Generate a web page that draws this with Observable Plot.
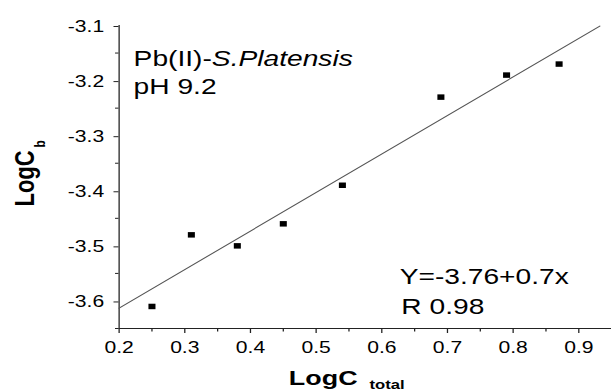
<!DOCTYPE html>
<html>
<head>
<meta charset="utf-8">
<script src="https://cdn.jsdelivr.net/npm/d3@7"></script>
<script src="https://cdn.jsdelivr.net/npm/@observablehq/plot@0.6"></script>
<style>
  html, body { margin: 0; padding: 0; background: white; overflow: hidden; }
  #chart { width: 611px; height: 391px; overflow: hidden; }
  #chart svg { display: block; }
</style>
</head>
<body>
<div id="chart"></div>
<script>
// ---- data ----
const logCtotal = [0.25, 0.31, 0.38, 0.45, 0.54, 0.69, 0.79, 0.87];
const logCb     = [-3.61, -3.48, -3.50, -3.46, -3.39, -3.23, -3.19, -3.17];

// linear fit Y = -3.76 + 0.7x, drawn over the span seen in the figure
const fitX = [0.2, 0.932];
const fitY = [-3.613, -3.101];

// ticks
const xTicks = [0.2, 0.3, 0.4, 0.5, 0.6, 0.7, 0.8, 0.9];
const xMinorTicks = [0.25, 0.35, 0.45, 0.55, 0.65, 0.75, 0.85];
const yTicks = [-3.6, -3.5, -3.4, -3.3, -3.2, -3.1];
const yMinorTicks = [-3.65, -3.55, -3.45, -3.35, -3.25, -3.15];

// texts
const annotationTitle = "Pb(II)-";
const annotationSpecies = "S.Platensis";
const annotationPH = "pH 9.2";
const equationText = "Y=-3.76+0.7x";
const rText = "R 0.98";
const xTitle = "LogC";
const xTitleSub = "total";
const yTitle = "LogC";
const yTitleSub = "b";

// ---- build ----
const points = logCtotal.map((x, i) => ({x, y: logCb[i]}));
const fit = fitX.map((x, i) => ({x, y: fitY[i]}));

const W = 477;          // drawn width, then stretched horizontally to 611 like the reference
const STRETCH = 611 / W;
const font = "'Liberation Sans', Arial, Helvetica, sans-serif";

const chart = Plot.plot({
  width: W,
  height: 391,
  marginLeft: 92.5,
  marginRight: 0,
  marginTop: 25,
  marginBottom: 63,
  style: {fontFamily: font, fontSize: "16.5px", background: "white", color: "black"},
  x: {domain: [0.2, 0.95]},
  y: {domain: [-3.65, -3.1]},
  marks: [
    // axis lines
    Plot.ruleX([0.2], {stroke: "#222", strokeWidth: 1}),
    Plot.ruleY([-3.65], {stroke: "#222", strokeWidth: 1}),
    // minor ticks
    Plot.axisX(xMinorTicks, {tickSize: 3.5, tickFormat: () => "", label: null, stroke: "#222"}),
    Plot.axisY(yMinorTicks, {tickSize: 2.7, tickFormat: () => "", label: null, stroke: "#222"}),
    // major ticks with labels
    Plot.axisX(xTicks, {tickSize: 5, tickPadding: 7.5, tickFormat: d => d.toFixed(1), label: null,
      stroke: "#222", fill: "black", fontSize: 16.5}),
    Plot.axisY(yTicks, {tickSize: 3.9, tickPadding: 7.8, tickFormat: d => d.toFixed(1), label: null,
      stroke: "#222", fill: "black", fontSize: 16.5, dy: 1}),
    // fit line
    Plot.line(fit, {x: "x", y: "y", stroke: "#555", strokeWidth: 1}),
    // data points
    Plot.dot(points, {x: "x", y: "y", symbol: "square", r: 3.1, fill: "black", stroke: "none"}),
    // annotations, top-left
    Plot.text([annotationTitle], {frameAnchor: "top-left", dx: 11.3, dy: 40, textAnchor: "start",
      lineAnchor: "bottom", fontSize: 22, fill: "black"}),
    Plot.text([annotationSpecies], {frameAnchor: "top-left", dx: 72.4, dy: 40, textAnchor: "start",
      lineAnchor: "bottom", fontSize: 22, fontStyle: "italic", fill: "black"}),
    Plot.text([annotationPH], {frameAnchor: "top-left", dx: 11.3, dy: 68.5, textAnchor: "start",
      lineAnchor: "bottom", fontSize: 22, fill: "black"}),
    // annotations, bottom-right
    Plot.text([equationText], {frameAnchor: "bottom-left", dx: 219, dy: -44.7, textAnchor: "start",
      lineAnchor: "bottom", fontSize: 22, fill: "black"}),
    Plot.text([rText], {frameAnchor: "bottom-left", dx: 220.3, dy: -14.7, textAnchor: "start",
      lineAnchor: "bottom", fontSize: 22, fill: "black"}),
    // x title
    Plot.text([xTitle], {frameAnchor: "bottom-left", dx: 132.5, dy: 56, textAnchor: "start",
      lineAnchor: "bottom", fontSize: 21, fontWeight: "bold", fill: "black"}),
    Plot.text([xTitleSub], {frameAnchor: "bottom-left", dx: 195.5, dy: 60.5, textAnchor: "start",
      lineAnchor: "bottom", fontSize: 13, fontWeight: "bold", fill: "black"}),
    // y title (rotated)
    Plot.text([yTitle], {frameAnchor: "top-left", dx: -66.3, dy: 181, rotate: -90, textAnchor: "start",
      lineAnchor: "bottom", fontSize: 22, fontWeight: "bold", fill: "black"}),
    Plot.text([yTitleSub], {frameAnchor: "top-left", dx: -57.9, dy: 122, rotate: -90, textAnchor: "start",
      lineAnchor: "bottom", fontSize: 12, fontWeight: "bold", fill: "black"})
  ]
});

chart.style.transformOrigin = "0 0";
chart.style.transform = `scaleX(${STRETCH})`;
chart.style.maxWidth = "none";
document.getElementById("chart").append(chart);
</script>
</body>
</html>
